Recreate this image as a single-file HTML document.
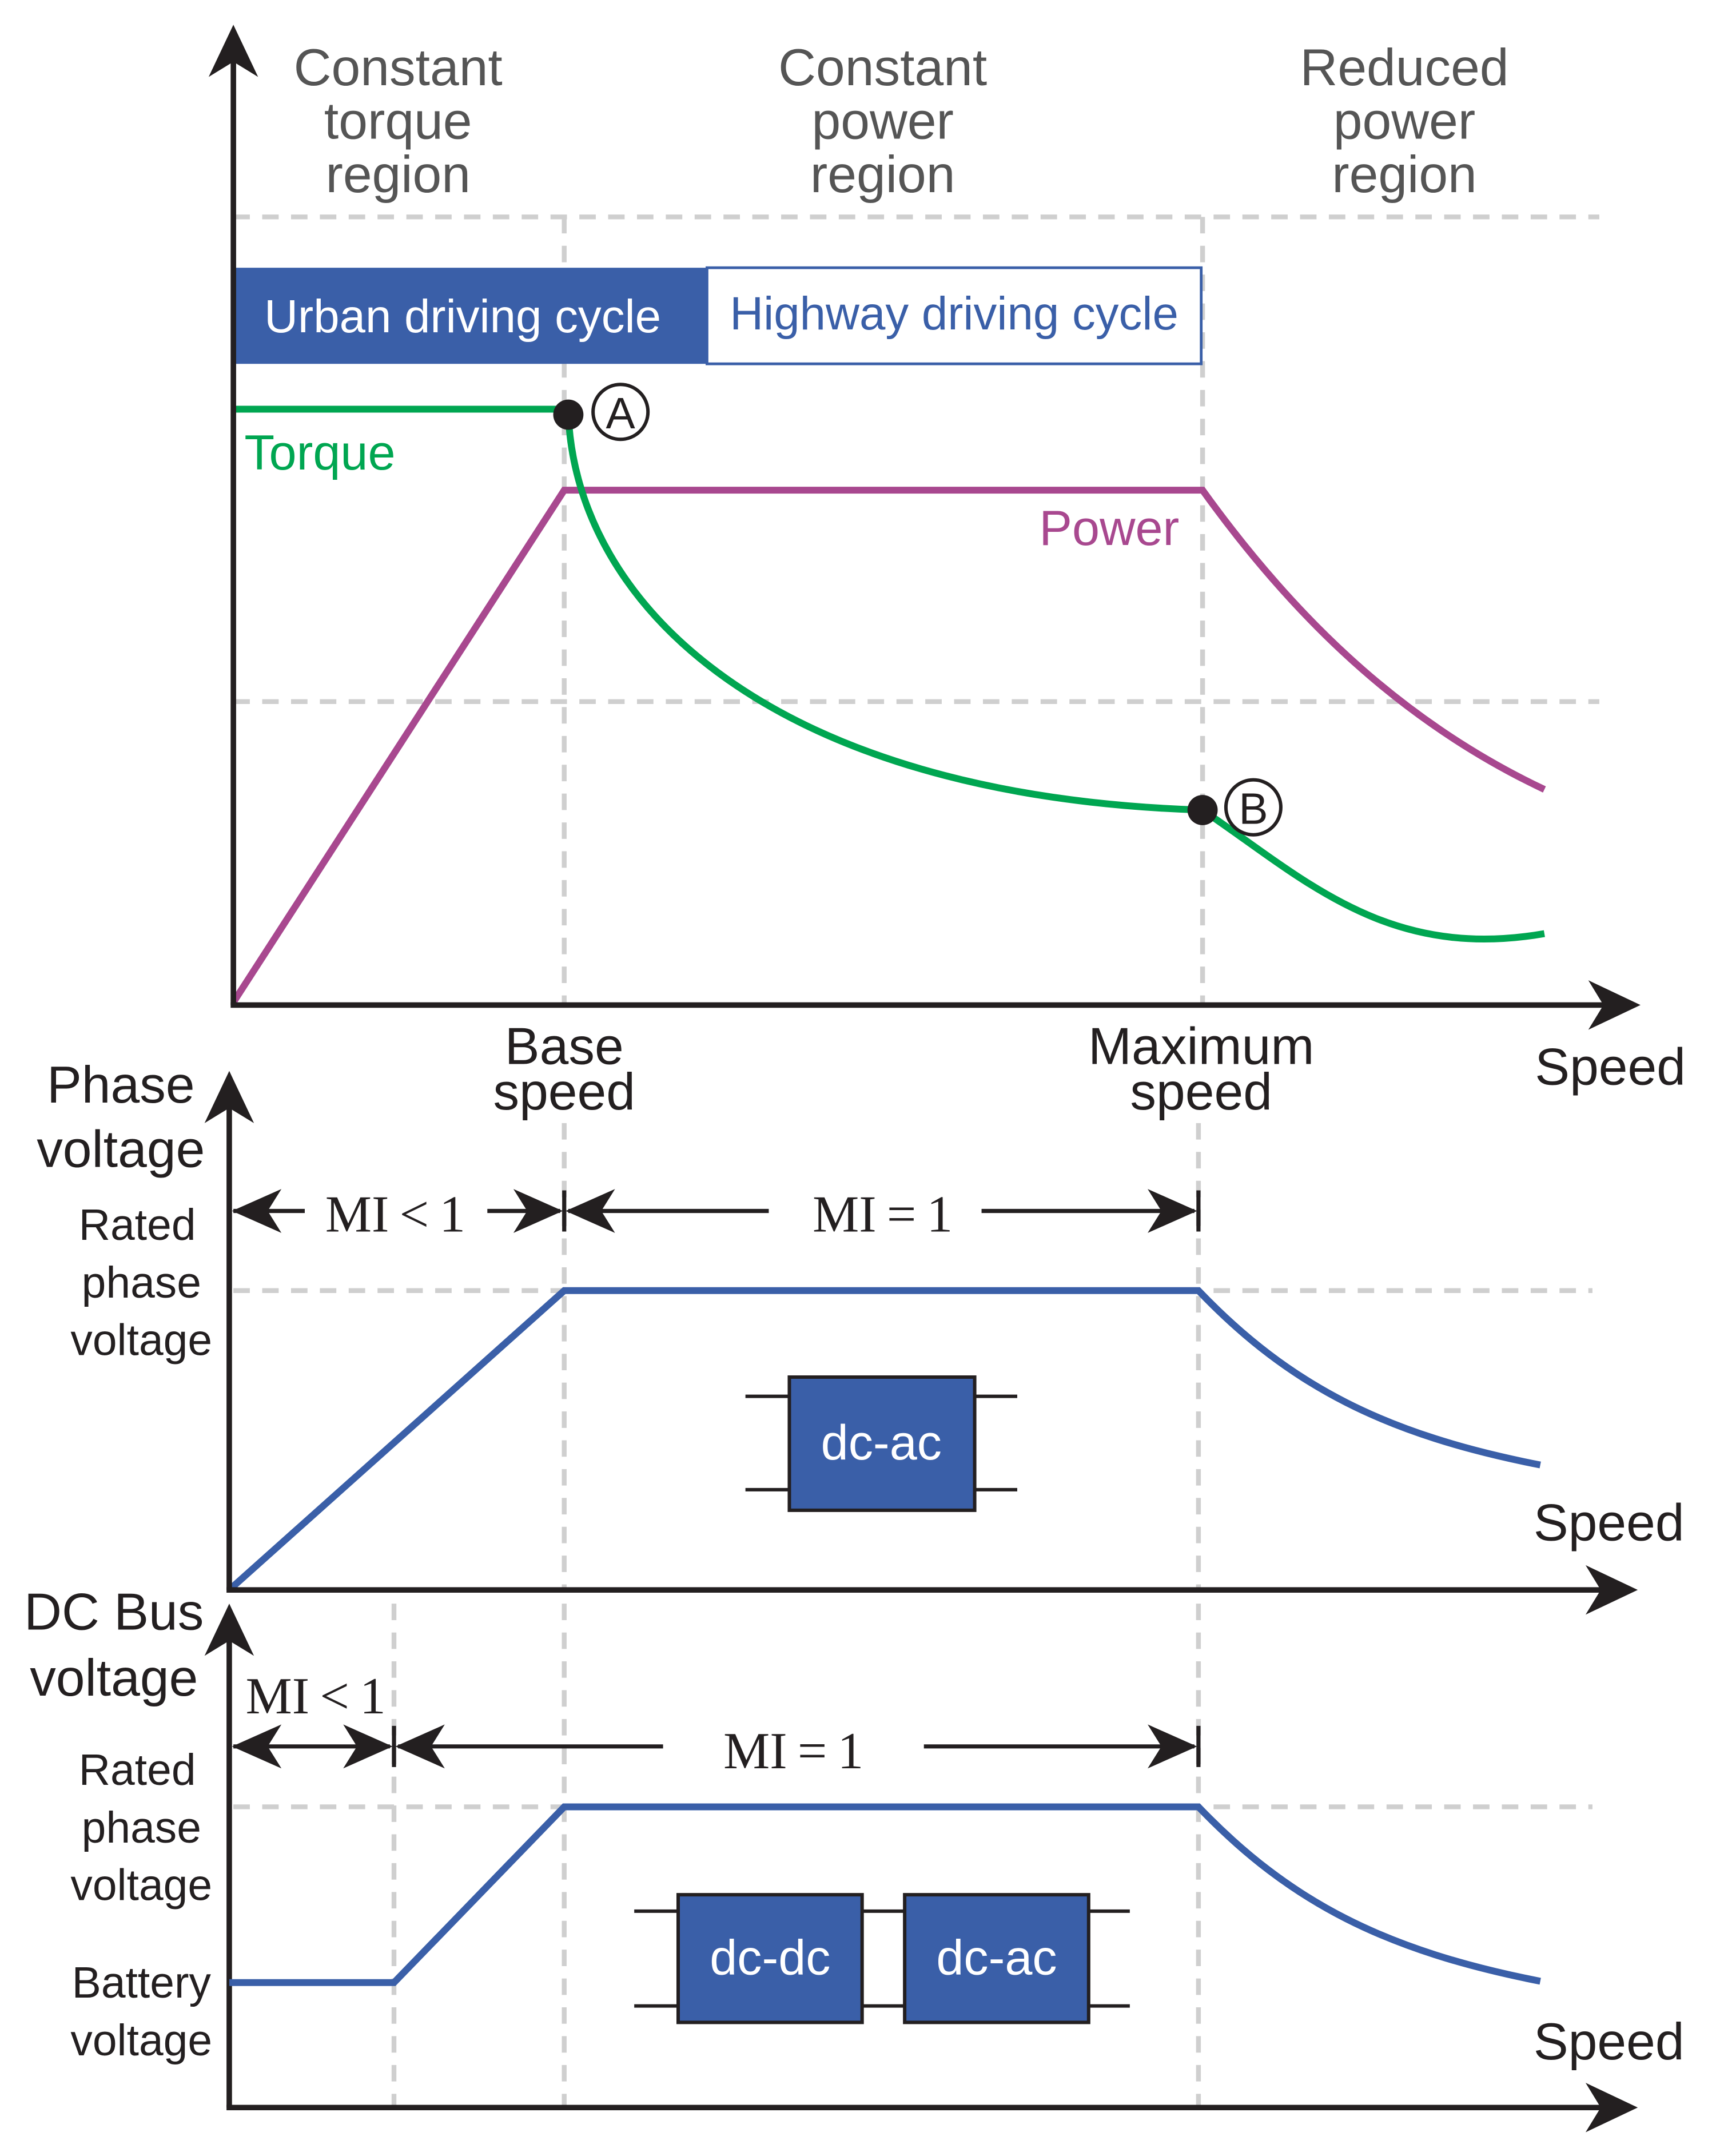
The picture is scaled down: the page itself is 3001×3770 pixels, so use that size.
<!DOCTYPE html>
<html><head><meta charset="utf-8"><style>html,body{margin:0;padding:0;background:#fff}svg{display:block}</style></head>
<body>
<svg width="3001" height="3770" viewBox="0 0 1250 1570.3" xmlns="http://www.w3.org/2000/svg" font-family="Liberation Sans, sans-serif">
<defs>
<path id="ah" d="M0,0 L-38,-18 L-27,0 L-38,18 Z" fill="#231f20"/>
<path id="sa" d="M0,0 L-36,-16 L-26,0 L-36,16 Z" fill="#231f20"/>
</defs>
<g stroke="#cfcfcf" stroke-width="3.5" stroke-dasharray="12,9" fill="none">
<line x1="170" y1="158" x2="1165" y2="158"/>
<line x1="170" y1="511" x2="1165" y2="511"/>
<line x1="411" y1="158" x2="411" y2="732"/>
<line x1="876" y1="158" x2="876" y2="732"/>
<line x1="411" y1="818" x2="411" y2="1158"/>
<line x1="873" y1="818" x2="873" y2="1158"/>
<line x1="170" y1="940" x2="1160" y2="940"/>
<line x1="411" y1="1168" x2="411" y2="1535"/>
<line x1="873" y1="1168" x2="873" y2="1535"/>
<line x1="287" y1="1168" x2="287" y2="1535"/>
<line x1="170" y1="1316" x2="1160" y2="1316"/>
</g>
<g fill="#555" font-size="38" text-anchor="middle">
<text x="290" y="62">Constant</text><text x="290" y="101">torque</text><text x="290" y="140">region</text>
<text x="643" y="62">Constant</text><text x="643" y="101">power</text><text x="643" y="140">region</text>
<text x="1023" y="62">Reduced</text><text x="1023" y="101">power</text><text x="1023" y="140">region</text>
</g>
<rect x="170" y="195" width="345" height="70" fill="#3a5fa8"/>
<rect x="515" y="195" width="360" height="70" fill="#fff" stroke="#3a5fa8" stroke-width="2"/>
<text x="337" y="242" fill="#fff" font-size="34" text-anchor="middle">Urban driving cycle</text>
<text x="695" y="240" fill="#3a5fa8" font-size="34" text-anchor="middle">Highway driving cycle</text>
<path d="M170,730 L411,357 L876,357 C950,460 1030,530 1125,575" fill="none" stroke="#a8488f" stroke-width="5"/>
<path d="M170,298 L414,298 M414,302 C420,440 560,580 876,590 C950,640 1010,700 1125,680" fill="none" stroke="#00a651" stroke-width="5"/>
<text x="178" y="342" fill="#00a651" font-size="36">Torque</text>
<text x="757" y="397" fill="#a8488f" font-size="36">Power</text>
<circle cx="414" cy="302" r="11" fill="#231f20"/>
<circle cx="452" cy="300" r="20" fill="#fff" stroke="#231f20" stroke-width="2.5"/>
<text x="452" y="312" font-size="32" text-anchor="middle" fill="#231f20">A</text>
<circle cx="876" cy="590" r="11" fill="#231f20"/>
<circle cx="913" cy="588" r="20" fill="#fff" stroke="#231f20" stroke-width="2.5"/>
<text x="913" y="600" font-size="32" text-anchor="middle" fill="#231f20">B</text>
<g stroke="#231f20" stroke-width="4">
<line x1="170" y1="40" x2="170" y2="732"/>
<line x1="168" y1="732" x2="1175" y2="732"/>
</g>
<use href="#ah" transform="translate(170,18) rotate(-90)"/>
<use href="#ah" transform="translate(1195,732)"/>
<g fill="#231f20" font-size="38" text-anchor="middle">
<text x="411" y="775">Base</text><text x="411" y="808">speed</text>
<text x="875" y="775">Maximum</text><text x="875" y="808">speed</text>
<text x="1173" y="790">Speed</text>
<text x="88" y="803">Phase</text><text x="88" y="850">voltage</text>
<text x="1172" y="1122">Speed</text>
<text x="83" y="1187">DC Bus</text><text x="83" y="1235">voltage</text>
<text x="1172" y="1500">Speed</text>
</g>
<g fill="#231f20" font-size="32" text-anchor="middle">
<text x="100" y="903">Rated</text><text x="103" y="945">phase</text><text x="103" y="987">voltage</text>
<text x="100" y="1300">Rated</text><text x="103" y="1342">phase</text><text x="103" y="1384">voltage</text>
<text x="103" y="1455">Battery</text><text x="103" y="1497">voltage</text>
</g>
<path d="M167,1158 L411,940 L873,940 C940,1010 1010,1045 1122,1067" fill="none" stroke="#3a5fa8" stroke-width="5"/>
<g stroke="#231f20" stroke-width="2.5">
<line x1="543" y1="1017" x2="741" y2="1017"/><line x1="543" y1="1085" x2="741" y2="1085"/>
<line x1="462" y1="1392" x2="823" y2="1392"/><line x1="462" y1="1461" x2="823" y2="1461"/>
</g>
<rect x="575" y="1003" width="135" height="97" fill="#3a5fa8" stroke="#231f20" stroke-width="2.5"/>
<text x="642" y="1063" fill="#fff" font-size="36" text-anchor="middle">dc-ac</text>
<g stroke="#231f20" stroke-width="4">
<line x1="167" y1="805" x2="167" y2="1158"/>
<line x1="165" y1="1158" x2="1175" y2="1158"/>
<line x1="167" y1="1192" x2="167" y2="1535"/>
<line x1="165" y1="1535" x2="1175" y2="1535"/>
</g>
<use href="#ah" transform="translate(167,780) rotate(-90)"/>
<use href="#ah" transform="translate(1193,1158)"/>
<use href="#ah" transform="translate(167,1168) rotate(-90)"/>
<use href="#ah" transform="translate(1193,1535)"/>
<g stroke="#231f20" stroke-width="3">
<line x1="170" y1="882" x2="222" y2="882"/><line x1="355" y1="882" x2="408" y2="882"/>
<line x1="414" y1="882" x2="560" y2="882"/><line x1="715" y1="882" x2="870" y2="882"/>
<line x1="411" y1="867" x2="411" y2="897"/><line x1="873" y1="867" x2="873" y2="897"/>
<line x1="170" y1="1272" x2="284" y2="1272"/><line x1="290" y1="1272" x2="483" y2="1272"/>
<line x1="673" y1="1272" x2="870" y2="1272"/>
<line x1="287" y1="1257" x2="287" y2="1287"/><line x1="873" y1="1257" x2="873" y2="1287"/>
</g>
<use href="#sa" transform="translate(169,882) rotate(180)"/>
<use href="#sa" transform="translate(410,882)"/>
<use href="#sa" transform="translate(412,882) rotate(180)"/>
<use href="#sa" transform="translate(872,882)"/>
<use href="#sa" transform="translate(169,1272) rotate(180)"/>
<use href="#sa" transform="translate(286,1272)"/>
<use href="#sa" transform="translate(288,1272) rotate(180)"/>
<use href="#sa" transform="translate(872,1272)"/>
<g fill="#231f20" font-family="Liberation Serif, serif" font-size="38" text-anchor="middle">
<text x="288" y="897">MI&#8201;&lt;&#8201;1</text>
<text x="643" y="897">MI&#8201;=&#8201;1</text>
<text x="230" y="1248">MI&#8201;&lt;&#8201;1</text>
<text x="578" y="1288">MI&#8201;=&#8201;1</text>
</g>
<path d="M167,1444 L287,1444 L411,1316 L873,1316 C940,1386 1010,1421 1122,1443" fill="none" stroke="#3a5fa8" stroke-width="5"/>
<rect x="494" y="1380" width="134" height="93" fill="#3a5fa8" stroke="#231f20" stroke-width="2.5"/>
<rect x="659" y="1380" width="134" height="93" fill="#3a5fa8" stroke="#231f20" stroke-width="2.5"/>
<text x="561" y="1438" fill="#fff" font-size="36" text-anchor="middle">dc-dc</text>
<text x="726" y="1438" fill="#fff" font-size="36" text-anchor="middle">dc-ac</text>
</svg>
</body></html>
